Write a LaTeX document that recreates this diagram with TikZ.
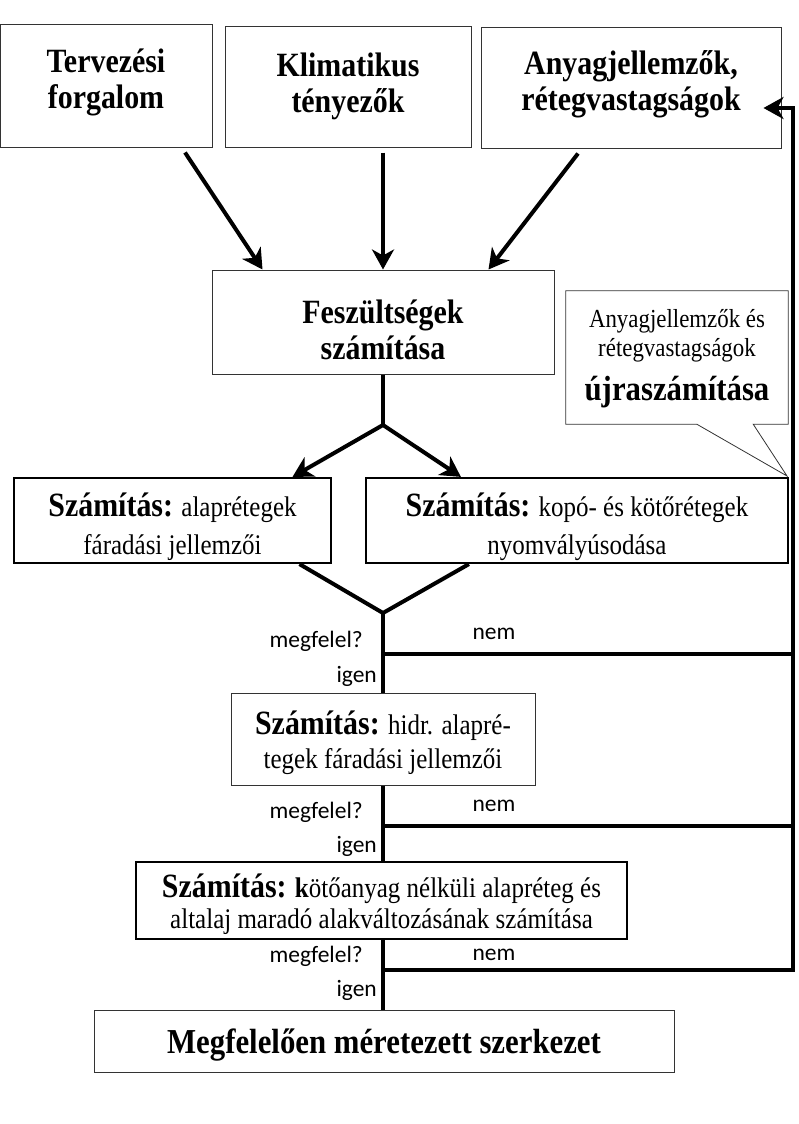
\documentclass[tikz,border=0pt]{standalone}
\usepackage{fontspec}
\setmainfont{Liberation Serif}[FakeStretch=0.88]
\newfontfamily\lab{Carlito}
\usetikzlibrary{arrows.meta,calc}
\tikzset{
  box/.style={draw=black!80, line width=1pt, fill=white, inner sep=0pt},
  bbox/.style={box, draw=black, line width=2.2pt},
  txt/.style={align=center, inner sep=0pt},
  arr/.style={line width=4pt, -{Stealth[length=20pt,width=22pt,inset=6pt]}},
  ln/.style={line width=4pt},
  lbl/.style={font=\lab\fontsize{23.5}{25}\selectfont, inner sep=0pt},
  topfont/.style={font=\bfseries\fontsize{34}{36}\selectfont},
}
\newcommand{\szam}{\textbf{\fontsize{34}{36}\selectfont Számítás:}}
\begin{document}
\begin{tikzpicture}[x=1pt,y=-1pt]
\useasboundingbox (0,0) rectangle (798,1124);
% top boxes
\node[box, minimum width=212pt, minimum height=122pt] (b1) at (106,86) {};
\node[txt, topfont] (t1) at ($(b1.center)+(0,-3.5)$) {Tervezési\\forgalom};
\node[box, minimum width=246pt, minimum height=120pt] (b2) at (348,87) {};
\node[txt, topfont] (t2) at ($(b2.center)+(0,-1)$) {Klimatikus\\tényezők};
\node[box, minimum width=300pt, minimum height=120pt] (b3) at (631,88) {};
\node[txt, topfont] (t3) at ($(b3.center)+(0,-3.5)$) {Anyagjellemzők,\\rétegvastagságok};
% stresses
\node[box, minimum width=342pt, minimum height=104pt] (b4) at (383,322) {};
\node[txt, topfont] (t4) at ($(b4.center)+(0,8)$) {Feszültségek\\számítása};
% calculations
\node[bbox, minimum width=317pt, minimum height=85pt] (b5) at (172.5,520.5) {};
\node[txt, font=\fontsize{28.4}{38}\selectfont] (t5) at ($(b5.center)+(0,6)$) {\szam{} alaprétegek\\fáradási jellemzői};
\node[bbox, minimum width=422pt, minimum height=85pt] (b6) at (577,520.5) {};
\node[txt, font=\fontsize{28.4}{38}\selectfont] (t6) at ($(b6.center)+(0,6)$) {\szam{} kopó- és kötőrétegek\\nyomvályúsodása};
\node[box, minimum width=304pt, minimum height=92pt] (b7) at (383,739) {};
\node[txt, font=\fontsize{28.4}{34}\selectfont] (t7) at ($(b7.center)+(0,4)$) {\szam{} hidr. alapré-\\tegek fáradási jellemzői};
\node[bbox, minimum width=491pt, minimum height=77pt] (b8) at (381.5,900.5) {};
\node[txt, font=\fontsize{28.4}{31}\selectfont] (t8) at ($(b8.center)+(0,4)$) {\szam{}\textbf{ k}ötőanyag nélküli alapréteg és\\altalaj maradó alakváltozásának számítása};
\node[box, minimum width=580pt, minimum height=62pt] (b9) at (384,1041) {};
\node[txt, font=\bfseries\fontsize{35}{36}\selectfont] (t9) at ($(b9.center)+(0,4)$) {Megfelelően méretezett szerkezet};
% callout
\node[minimum width=222pt, minimum height=133pt, inner sep=0pt] (co) at (677,357.5) {};
\node[txt, font=\fontsize{26}{29}\selectfont] (cot) at ($(co.center)+(0,1)$) {Anyagjellemzők és\\rétegvastagságok\\[13pt]{\bfseries\fontsize{35}{35}\selectfont újraszámítása}};
\coordinate (cotip) at (787,476);
\draw[black!80, line width=0.8pt] (co.south west) -- (co.north west) -- (co.north east) -- (co.south east) -- ($(co.south east)+(-35,0)$) -- (cotip) -- ($(co.south west)+(131,0)$) -- cycle;
% input arrows
\draw[arr] ($(b1.south)+(79,5)$) -- ($(b4.north west)+(51,0)$);
\draw[arr] ($(b2.south)+(35,5)$) -- (b4.north);
\draw[arr] ($(b3.south)+(-53,5)$) -- ($(b4.north east)+(-66,0)$);
% branch
\coordinate (j1) at (383,425);
\draw[ln] (b4.south) -- (j1);
\draw[arr] (j1) -- ($(b5.north)+(120,0)$);
\draw[arr] (j1) -- ($(b6.north west)+(96,0)$);
% merge
\coordinate (j2) at (383,613);
\draw[ln, line join=miter] ($(b5.south)+(127,0)$) -- (j2) -- ($(b6.south west)+(104,0)$);
\draw[ln] (j2) -- (b7.north);
\draw[ln] (b7.south) -- (b7.south |- b8.north);
\draw[ln] (b7.south |- b8.south) -- (b7.south |- b9.north);
% feedback lines
\coordinate (fbx) at (793,0);
\coordinate (r1) at (383,654);
\coordinate (r2) at (383,826);
\coordinate (r3) at (383,970);
\coordinate (fbt) at ($(b3.east)+(-18,20)$);
\draw[ln] (r1) -- (r1 -| fbx);
\draw[ln] (r2) -- (r2 -| fbx);
\draw[arr] (r3) -- (r3 -| fbx) -- (fbx |- fbt) -- (fbt);
% labels
\node[lbl, anchor=east] (m1) at (363,641) {megfelel?};
\node[lbl, anchor=east] (i1) at (377,676) {igen};
\node[lbl] (n1) at (494,634) {nem};
\node[lbl, anchor=east] (m2) at (363,812) {megfelel?};
\node[lbl, anchor=east] (i2) at (377,846) {igen};
\node[lbl] (n2) at (494,806) {nem};
\node[lbl, anchor=east] (m3) at (363,956) {megfelel?};
\node[lbl, anchor=east] (i3) at (377,990) {igen};
\node[lbl] (n3) at (494,955) {nem};
\end{tikzpicture}
\end{document}
